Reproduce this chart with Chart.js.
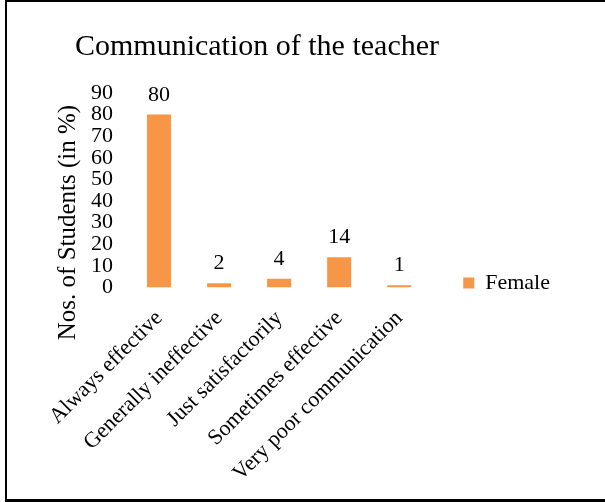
<!DOCTYPE html>
<html>
<head>
<meta charset="utf-8">
<script src="https://cdn.jsdelivr.net/npm/chart.js@4.4.1/dist/chart.umd.min.js"></script>
<style>
  html, body { margin: 0; padding: 0; background: #fff; }
  #wrap { position: relative; width: 605px; height: 502px; overflow: hidden; }
  #frame { position: absolute; left: 5px; top: 0px; width: 700px; height: 497px;
           border-left: 2px solid #000; border-top: 2px solid #000; border-bottom: 3px solid #000; }
  canvas { position: absolute; left: 0; top: 0; }
</style>
</head>
<body>
<div id="wrap">
  <div id="frame"></div>
  <canvas id="chart" width="605" height="502"></canvas>
</div>
<script>
const categories = ['Always effective', 'Generally ineffective', 'Just satisfactorily', 'Sometimes effective', 'Very poor communication'];
const femaleValues = [80, 2, 4, 14, 1];
const yTicks = [0, 10, 20, 30, 40, 50, 60, 70, 80, 90];

const serif = '"Liberation Serif", "Times New Roman", serif';

// value labels above each bar
const barLabels = {
    id: 'barLabels',
    afterDatasetsDraw(chart) {
        const ctx = chart.ctx;
        ctx.save();
        ctx.font = '22px ' + serif;
        ctx.fillStyle = '#000';
        ctx.textAlign = 'center';
        ctx.textBaseline = 'alphabetic';
        chart.getDatasetMeta(0).data.forEach((bar, i) => {
            ctx.fillText(String(femaleValues[i]), bar.x, bar.y - 14);
        });
        ctx.restore();
    }
};

// chart title and y axis title, placed like the original (title is left of centre,
// axis title sits lower than the plot middle)
const titles = {
    id: 'titles',
    afterDraw(chart) {
        const ctx = chart.ctx;
        ctx.save();
        ctx.fillStyle = '#000';
        ctx.font = '30px ' + serif;
        ctx.textAlign = 'center';
        ctx.textBaseline = 'alphabetic';
        ctx.fillText('Communication of the teacher', 257, 55);

        ctx.font = '25px ' + serif;
        ctx.textBaseline = 'middle';
        ctx.translate(68, chart.chartArea.bottom - 65);
        ctx.rotate(-Math.PI / 2);
        ctx.fillText('Nos. of Students (in %)', 0, 0);
        ctx.restore();
    }
};

new Chart(document.getElementById('chart'), {
    type: 'bar',
    data: {
        labels: categories,
        datasets: [{
            label: 'Female',
            data: femaleValues,
            backgroundColor: '#F79646',
            borderWidth: 0,
            categoryPercentage: 1,
            barPercentage: 0.4
        }]
    },
    options: {
        responsive: false,
        animation: false,
        layout: {
            padding: { left: 0, right: 45, top: 93, bottom: 20 }
        },
        scales: {
            x: {
                grid: { display: false, drawTicks: false },
                border: { display: false },
                ticks: {
                    color: '#000',
                    font: { family: serif, size: 22 },
                    minRotation: 45,
                    maxRotation: 45,
                    autoSkip: false,
                    padding: 18
                }
            },
            y: {
                min: 0,
                max: 90,
                afterBuildTicks(axis) {
                    axis.ticks = yTicks.map(v => ({ value: v }));
                },
                // room on the left for the axis title drawn by the plugin
                afterFit(axis) {
                    axis.width = 129;
                },
                grid: { display: false, drawTicks: false },
                border: { display: false },
                ticks: {
                    color: '#000',
                    font: { family: serif, size: 22, lineHeight: 1 },
                    autoSkip: false,
                    padding: 16
                }
            }
        },
        plugins: {
            title: { display: false },
            legend: {
                position: 'right',
                align: 'start',
                // empty legend title used only as a spacer so the key lines up with the x axis
                title: {
                    display: true,
                    text: '',
                    font: { size: 10, lineHeight: 1 },
                    padding: { top: 135, bottom: 0 }
                },
                labels: {
                    color: '#000',
                    font: { family: serif, size: 22 },
                    boxWidth: 11,
                    boxHeight: 11,
                    padding: 34
                }
            },
            tooltip: { enabled: false }
        }
    },
    plugins: [barLabels, titles]
});
</script>
</body>
</html>
